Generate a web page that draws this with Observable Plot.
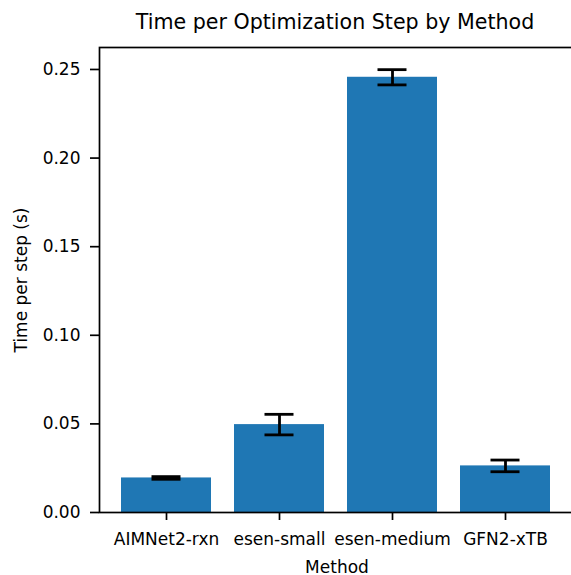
<!DOCTYPE html>
<html>
<head>
<meta charset="utf-8">
<script src="https://cdn.jsdelivr.net/npm/d3@7"></script>
<script src="https://cdn.jsdelivr.net/npm/@observablehq/plot@0.6"></script>
<style>
  html, body { margin: 0; padding: 0; background: white; }
  #fig { position: relative; width: 571px; height: 575px; overflow: hidden; background: white; font-family: "DejaVu Sans", sans-serif; color: black; }
  .lbl { position: absolute; white-space: nowrap; line-height: 1; }
</style>
</head>
<body>
<div id="fig">
  <div class="lbl" id="title" style="font-size:20.6px; left:335px; top:12.3px; transform:translateX(-50%);">Time per Optimization Step by Method</div>
  <div class="lbl" id="xlabel" style="font-size:17px; left:337px; top:558.5px; transform:translateX(-50%);">Method</div>
  <div class="lbl" id="ylabel" style="font-size:17px; left:21px; top:280px; transform:translate(-50%,-50%) rotate(-90deg);">Time per step (s)</div>
</div>
<script>
const methods = ["AIMNet2-rxn", "esen-small", "esen-medium", "GFN2-xTB"];
const meanTimes = [0.0195, 0.0496, 0.2456, 0.0263];
const errTimes = [0.00075, 0.0058, 0.0043, 0.0033];
const yTicks = [0, 0.05, 0.10, 0.15, 0.20, 0.25];

const data = methods.map((m, i) => ({method: m, mean: meanTimes[i], err: errTimes[i]}));

const chart = Plot.plot({
  width: 575,
  height: 575,
  marginLeft: 99,
  marginRight: 2,
  marginTop: 47,
  marginBottom: 63,
  style: {fontFamily: "DejaVu Sans", fontSize: "17px", color: "black", background: "transparent", overflow: "visible", maxWidth: "none"},
  x: {domain: methods, paddingInner: 0.2, paddingOuter: 0.19, label: null},
  y: {domain: [0, 0.2624], label: null},
  marks: [
    Plot.barY(data, {x: "method", y: "mean", fill: "#1f77b4"}),
    Plot.ruleX(data, {x: "method", y1: d => d.mean - d.err, y2: d => d.mean + d.err, stroke: "black", strokeWidth: 2.8}),
    Plot.tickY(data, {x: "method", y: d => d.mean + d.err, stroke: "black", strokeWidth: 2.8, inset: 30.5}),
    Plot.tickY(data, {x: "method", y: d => d.mean - d.err, stroke: "black", strokeWidth: 2.8, inset: 30.5}),
    Plot.frame({stroke: "black", strokeWidth: 1.7}),
    Plot.axisY({ticks: yTicks, tickFormat: d => d.toFixed(2), tickSize: 9, tickPadding: 10, strokeWidth: 1.7, label: null}),
    Plot.axisX({tickSize: 8, tickPadding: 12, strokeWidth: 1.7, label: null})
  ]
});
chart.style.position = "absolute";
chart.style.left = "0px";
chart.style.top = "0px";
chart.style.maxWidth = "none";
document.getElementById("fig").prepend(chart);
</script>
</body>
</html>
